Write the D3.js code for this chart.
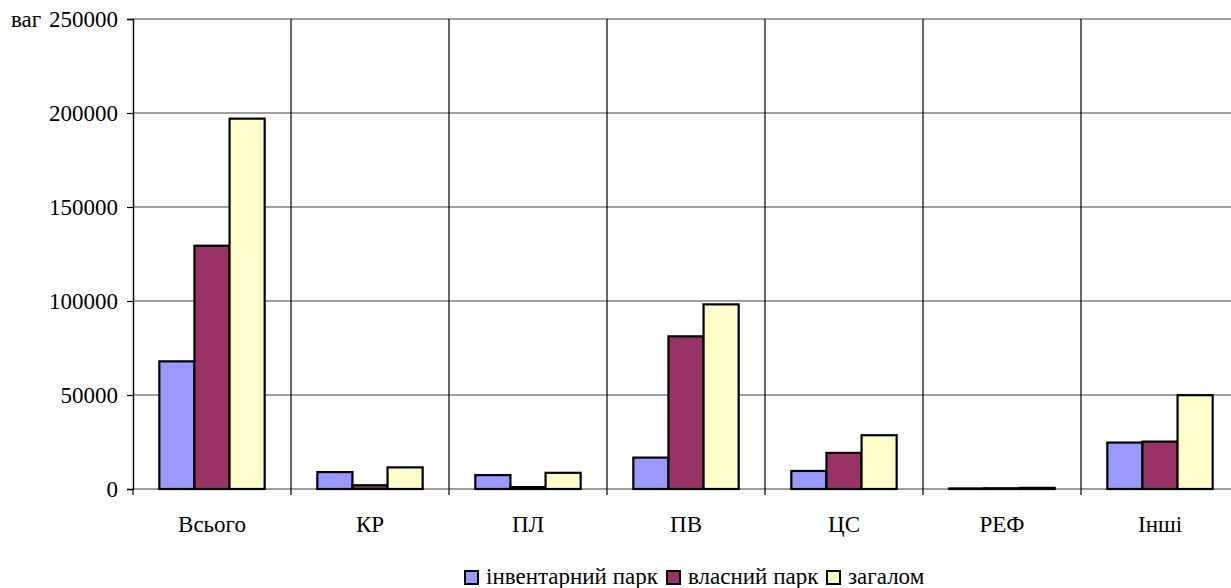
<!DOCTYPE html>
<html>
<head>
<meta charset="utf-8">
<script src="https://cdn.jsdelivr.net/npm/d3@7"></script>
<style>
  html, body { margin: 0; padding: 0; background: #fff; }
  svg { display: block; }
</style>
</head>
<body>
<svg id="chart" width="1231" height="588" font-family="Liberation Serif"></svg>
<script>
// Wagon fleet by type
const categories = ["Всього", "КР", "ПЛ", "ПВ", "ЦС", "РЕФ", "Інші"];
const seriesNames = ["інвентарний парк", "власний парк", "загалом"];
const inventoryFleet = [67900, 9000, 7400, 16700, 9600, 300, 24700];
const ownFleet = [129400, 2000, 1000, 81200, 19200, 400, 25200];
const totalFleet = [197000, 11500, 8600, 98200, 28600, 600, 49900];
const yTicks = [0, 50000, 100000, 150000, 200000, 250000];
const seriesColors = ["#9999FF", "#993366", "#FFFFCC"];
const unitLabel = "ваг";

const seriesValues = [inventoryFleet, ownFleet, totalFleet];

const FONT = "Liberation Serif";
const fontSize = 23;

// apply the serif face both as attribute and as inline style
function serif(sel) {
  return sel.attr("font-family", FONT).attr("font-size", fontSize)
    .style("font-family", "'Liberation Serif'").style("font-size", fontSize + "px")
    .attr("fill", "#000");
}

const svg = d3.select("#chart");
const plot = { left: 133, right: 1239, top: 19, bottom: 489 };

const x = d3.scaleBand().domain(categories).range([plot.left, plot.right]).padding(0);
const xs = d3.scaleBand().domain(seriesNames).range([0, x.bandwidth()])
  .paddingInner(0).paddingOuter(0.75);
const y = d3.scaleLinear().domain([0, 250000]).range([plot.bottom, plot.top]);

// horizontal gridlines
svg.append("g").selectAll("line").data(yTicks).join("line")
  .attr("x1", plot.left).attr("x2", plot.right)
  .attr("y1", d => y(d)).attr("y2", d => y(d))
  .attr("stroke", "#7f7f7f").attr("stroke-width", 1.6);

// category separators
const bounds = categories.slice(1).map(c => x(c));
svg.append("g").selectAll("line").data(bounds).join("line")
  .attr("x1", d => d).attr("x2", d => d)
  .attr("y1", plot.top).attr("y2", plot.bottom + 6)
  .attr("stroke", "#000").attr("stroke-width", 1.2);

// bars
const groups = svg.append("g").selectAll("g").data(categories).join("g")
  .attr("transform", c => `translate(${x(c)},0)`);
groups.selectAll("rect")
  .data((c, i) => seriesNames.map((s, k) => ({ s, k, v: seriesValues[k][i] })))
  .join("rect")
  .attr("x", d => xs(d.s))
  .attr("width", xs.bandwidth())
  .attr("y", d => y(d.v))
  .attr("height", d => y(0) - y(d.v))
  .attr("fill", d => seriesColors[d.k])
  .attr("stroke", "#000").attr("stroke-width", 2.2);

// y axis
const yAxis = d3.axisLeft(y).tickValues(yTicks).tickSize(6).tickPadding(9)
  .tickFormat(d3.format("d"));
const ya = svg.append("g").attr("transform", `translate(${plot.left},0)`).call(yAxis);
ya.attr("font-family", FONT).attr("font-size", fontSize);
ya.select(".domain").attr("stroke", "#000").attr("stroke-width", 1.4);
ya.selectAll(".tick line").attr("stroke", "#000").attr("stroke-width", 1.2);
serif(ya.selectAll(".tick text"));

// x axis labels
const xa = svg.append("g").attr("transform", `translate(0,${plot.bottom})`)
  .call(d3.axisBottom(x).tickSize(0).tickPadding(27));
xa.attr("font-family", FONT).attr("font-size", fontSize);
xa.select(".domain").remove();
serif(xa.selectAll(".tick text"));
// tick mark at the axis origin
svg.append("line")
  .attr("x1", plot.left).attr("x2", plot.left)
  .attr("y1", plot.bottom).attr("y2", plot.bottom + 6)
  .attr("stroke", "#000").attr("stroke-width", 1.2);

// unit label
serif(svg.append("text").attr("x", 11).attr("y", 27)).text(unitLabel);

// legend
const legend = svg.append("g");
const legendX = [465, 667, 827];
seriesNames.forEach((s, k) => {
  legend.append("rect")
    .attr("x", legendX[k]).attr("y", 571)
    .attr("width", 13).attr("height", 13)
    .attr("fill", seriesColors[k]).attr("stroke", "#000").attr("stroke-width", 2);
  serif(legend.append("text").attr("x", legendX[k] + 21).attr("y", 584)).text(s);
});
</script>
</body>
</html>
